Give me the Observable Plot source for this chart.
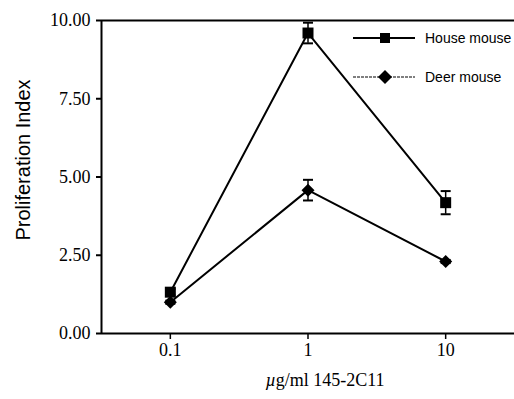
<!DOCTYPE html>
<html>
<head>
<meta charset="utf-8">
<script src="https://cdn.jsdelivr.net/npm/d3@7"></script>
<script src="https://cdn.jsdelivr.net/npm/@observablehq/plot@0.6"></script>
<style>
  html, body { margin: 0; padding: 0; background: #fff; }
  #wrap { position: relative; width: 514px; height: 399px; overflow: hidden; }
  #legend { position: absolute; left: 352px; top: 26px; font-family: "Liberation Sans", Arial, sans-serif; font-size: 14px; color: #000; }
  .row { display: flex; align-items: center; height: 24px; }
  .row svg { display: block; }
  .row span { margin-left: 9px; }
</style>
</head>
<body>
<div id="wrap"><div id="legend"></div></div>
<script>
const doses = [0.1, 1, 10];
const houseMean = [1.32, 9.6, 4.18];
const houseErr = [0.1, 0.33, 0.37];
const deerMean = [1.0, 4.58, 2.3];
const deerErr = [0.05, 0.33, 0.05];
const seriesNames = ["House mouse", "Deer mouse"];
const xTicks = [0.1, 1, 10];
const yTicks = [0, 2.5, 5, 7.5, 10];

const data = [
  ...doses.map((d, i) => ({series: seriesNames[0], x: d, y: houseMean[i], e: houseErr[i]})),
  ...doses.map((d, i) => ({series: seriesNames[1], x: d, y: deerMean[i], e: deerErr[i]}))
];
const house = data.filter(d => d.series === seriesNames[0]);
const deer = data.filter(d => d.series === seriesNames[1]);

const capSymbol = {draw(ctx, size) { const r = Math.sqrt(size / Math.PI); ctx.moveTo(-r, 0); ctx.lineTo(r, 0); }};
const squareSymbol = {draw(ctx, size) { const r = Math.sqrt(size / Math.PI); ctx.rect(-r, -r, 2 * r, 2 * r); }};
const diamondSymbol = {draw(ctx, size) { const r = Math.sqrt(size / Math.PI); ctx.moveTo(0, -r); ctx.lineTo(r, 0); ctx.lineTo(0, r); ctx.lineTo(-r, 0); ctx.closePath(); }};

const xmin = Math.pow(10, -1.5), xmax = Math.pow(10, 1.5);

const chart = Plot.plot({
  width: 514, height: 399,
  marginLeft: 101, marginRight: 0, marginTop: 20, marginBottom: 66,
  x: {type: "log", domain: [xmin, xmax]},
  y: {domain: [0, 10]},
  style: {fontFamily: "Liberation Serif, Times New Roman, serif", fontSize: "18px", color: "#000", background: "#fff"},
  marks: [
    Plot.axisY({ticks: yTicks, tickSize: 5, tickPadding: 6, tickFormat: d => d.toFixed(2), label: null, strokeWidth: 2, fontSize: 18}),
    Plot.axisX({ticks: xTicks, tickSize: 6, tickPadding: 4, tickFormat: d => String(d), label: null, strokeWidth: 1.5, fontSize: 18}),
    Plot.ruleY([0, 10], {stroke: "#000", strokeWidth: 2}),
    Plot.ruleX([xmin], {stroke: "#000", strokeWidth: 2}),
    Plot.line(data, {x: "x", y: "y", z: "series", stroke: "#000", strokeWidth: 2}),
    Plot.ruleX(data, {x: "x", y1: d => d.y - d.e, y2: d => d.y + d.e, stroke: "#000", strokeWidth: 1.5}),
    Plot.dot(data, {x: "x", y: d => d.y - d.e, symbol: capSymbol, r: 5, stroke: "#000", strokeWidth: 2, fill: "none"}),
    Plot.dot(data, {x: "x", y: d => d.y + d.e, symbol: capSymbol, r: 5, stroke: "#000", strokeWidth: 2, fill: "none"}),
    Plot.dot(house, {x: "x", y: "y", symbol: squareSymbol, r: 5.5, fill: "#000", stroke: "none"}),
    Plot.dot(deer, {x: "x", y: "y", symbol: diamondSymbol, r: 6.5, fill: "#000", stroke: "none"}),
    Plot.text(["Proliferation Index"], {frameAnchor: "left", textAnchor: "middle", lineAnchor: "middle", rotate: -90, dx: -78, dy: -17, fontFamily: "Liberation Sans, Arial, sans-serif", fontSize: 20, fill: "#000"}),
    Plot.text(["µg/ml 145-2C11"], {frameAnchor: "bottom", dx: 17, dy: 52, fontSize: 18, fill: "#000"})
  ]
});
document.getElementById("wrap").prepend(chart);

// italic mu in x label
for (const t of chart.querySelectorAll("text")) {
  if (t.textContent === "µg/ml 145-2C11") {
    t.textContent = "";
    const a = document.createElementNS("http://www.w3.org/2000/svg", "tspan");
    a.setAttribute("font-style", "italic");
    a.textContent = "µ";
    const b = document.createElementNS("http://www.w3.org/2000/svg", "tspan");
    b.textContent = "g/ml 145-2C11";
    t.append(a, b);
  }
}

// legend
const legend = document.getElementById("legend");
const rows = [
  {name: seriesNames[0], sym: "square", dash: null, w: 2},
  {name: seriesNames[1], sym: "diamond", dash: "3,1", w: 1.2}
];
rows.forEach((r, i) => {
  const row = document.createElement("div");
  row.className = "row";
  row.style.marginTop = i === 0 ? "0px" : "15px";
  const s = d3.create("svg").attr("width", 64).attr("height", 14);
  s.append("line").attr("x1", 1).attr("x2", 63).attr("y1", 7).attr("y2", 7)
    .attr("stroke", "#000").attr("stroke-width", r.w).attr("stroke-dasharray", r.dash);
  if (r.sym === "square") s.append("rect").attr("x", 28).attr("y", 2).attr("width", 10).attr("height", 10).attr("fill", "#000");
  else s.append("path").attr("d", "M33,0L40,7L33,14L26,7Z").attr("fill", "#000");
  row.append(s.node());
  const sp = document.createElement("span");
  sp.textContent = r.name;
  row.append(sp);
  legend.append(row);
});
</script>
</body>
</html>
